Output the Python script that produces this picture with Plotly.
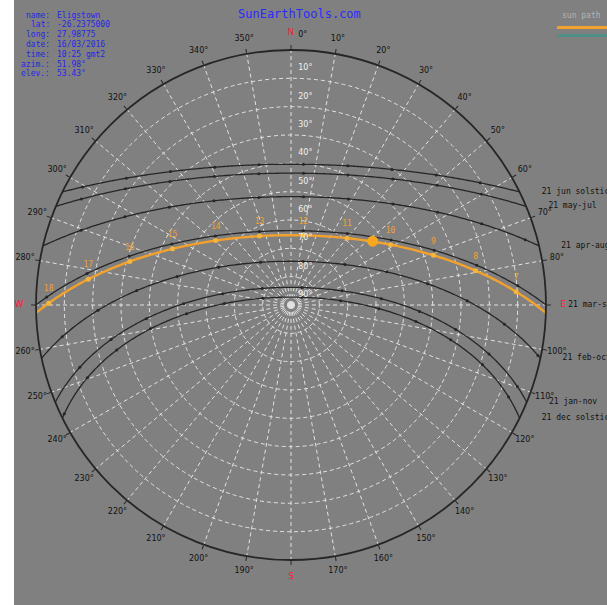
import numpy as np
import plotly.graph_objects as go

# ---- site / date data ----
LATITUDE = -26.2375
SITE_INFO_KEYS = ["name:", "lat:", "long:", "date:", "time:", "azim.:", "elev.:"]
SITE_INFO_VALS = ["Eligstown", "-26.2375000", "27.98775", "16/03/2016",
                  "10:25 gmt2", "51.98°", "53.43°"]

# reference sun paths (label, solar declination in degrees)
PATH_NAMES = ["21 jun solstice", "21 may-jul", "21 apr-aug", "21 mar-sep",
              "21 feb-oct", "21 jan-nov", "21 dec solstice"]
PATH_DECL = [23.44, 20.3, 12.0, 0.0, -10.8, -20.0, -23.44]

# today's path
TODAY_NAME = "16/03/2016"
TODAY_DECL = -1.6
CLOCK_HOURS = list(range(5, 20))
SOLAR_NOON_CLOCK = 12.28          # local clock time of solar noon (gmt+2)

# current sun position
SUN_AZIM = 51.98
SUN_ELEV = 53.43

# axes
AZ_TICKS = list(range(0, 360, 10))
AZ_LABEL_VALUES = [a for a in AZ_TICKS if a not in (90, 180, 270)]
ALT_RINGS = [10, 20, 30, 40, 50, 60, 70, 80]
ALT_LABELS = [10, 20, 30, 40, 50, 60, 70, 80, 90]
CARDINALS = ["N", "E", "S", "W"]
CARDINAL_AZ = [0, 90, 180, 270]

BG = "#808080"
INK = "#262626"
ORANGE = "#f2a22c"
GRID = "#e2e2e2"
MONO = "DejaVu Sans Mono"


def sun_position(decl, hour_angle):
    """Azimuth (from north, clockwise) and elevation for a declination / hour angle."""
    phi = np.radians(LATITUDE)
    d = np.radians(decl)
    h = np.radians(hour_angle)
    sin_alt = np.sin(phi) * np.sin(d) + np.cos(phi) * np.cos(d) * np.cos(h)
    alt = np.degrees(np.arcsin(np.clip(sin_alt, -1, 1)))
    az = np.degrees(np.arctan2(np.sin(h), np.cos(h) * np.sin(phi) - np.tan(d) * np.cos(phi))) + 180
    return np.mod(az, 360), alt


def day_arc(decl, n=241):
    h0 = np.degrees(np.arccos(np.clip(-np.tan(np.radians(LATITUDE)) * np.tan(np.radians(decl)), -1, 1)))
    ha = np.linspace(-h0, h0, n)
    return sun_position(decl, ha)


def hourly(decl):
    ha = (np.array(CLOCK_HOURS, dtype=float) - SOLAR_NOON_CLOCK) * 15.0
    az, alt = sun_position(decl, ha)
    keep = alt > 0.5
    return az[keep], alt[keep], np.array(CLOCK_HOURS)[keep]


fig = go.Figure()

# reference day paths
for name, decl in zip(PATH_NAMES, PATH_DECL):
    az, alt = day_arc(decl)
    fig.add_trace(go.Scatterpolar(r=90 - alt, theta=az, mode="lines",
                                  line=dict(color=INK, width=1.3),
                                  showlegend=False, hoverinfo="skip"))
    haz, halt, _ = hourly(decl)
    fig.add_trace(go.Scatterpolar(r=90 - halt, theta=haz, mode="markers",
                                  marker=dict(color=INK, size=3),
                                  showlegend=False, hoverinfo="skip"))
    # label beside the sunrise point
    fig.add_trace(go.Scatterpolar(r=[90 - alt[0]], theta=[az[0]], mode="markers+text",
                                  text=[name], textposition="middle right",
                                  textfont=dict(family=MONO, size=8, color="#111111"),
                                  marker=dict(size=34, color="rgba(0,0,0,0)"),
                                  cliponaxis=False, showlegend=False, hoverinfo="skip"))

# today's path
az, alt = day_arc(TODAY_DECL)
fig.add_trace(go.Scatterpolar(r=90 - alt, theta=az, mode="lines",
                              line=dict(color=ORANGE, width=2.4),
                              showlegend=False, hoverinfo="skip"))
haz, halt, hrs = hourly(TODAY_DECL)
fig.add_trace(go.Scatterpolar(r=90 - halt, theta=haz, mode="markers",
                              marker=dict(color="#f7b43a", size=5),
                              showlegend=False, hoverinfo="skip"))
fig.add_trace(go.Scatterpolar(r=90 - halt, theta=haz, mode="markers+text",
                              text=[str(h) for h in hrs], textposition="top center",
                              textfont=dict(family=MONO, size=8, color="#f0a030"),
                              marker=dict(size=14, color="rgba(0,0,0,0)"),
                              cliponaxis=False, showlegend=False, hoverinfo="skip"))

# current sun position
fig.add_trace(go.Scatterpolar(r=[90 - SUN_ELEV], theta=[SUN_AZIM], mode="markers",
                              marker=dict(color="#f7a81e", size=11),
                              showlegend=False, hoverinfo="skip"))

# elevation labels along the north line
fig.add_trace(go.Scatterpolar(r=[90 - a + 3.5 for a in ALT_LABELS], theta=[0] * len(ALT_LABELS),
                              mode="markers+text", text=[f"{a}°" for a in ALT_LABELS],
                              textposition="middle right",
                              textfont=dict(family="DejaVu Sans", size=8, color="#f2f2f2"),
                              marker=dict(size=10, color="rgba(0,0,0,0)"),
                              cliponaxis=False, showlegend=False, hoverinfo="skip"))

# outer ring of labels lives on a second, wider polar frame sharing the same centre
lab_theta = [a + 2.5 if a == 0 else a for a in AZ_LABEL_VALUES]
fig.add_trace(go.Scatterpolar(r=[95.3] * len(AZ_LABEL_VALUES), theta=lab_theta, mode="text",
                              text=[f"{a}°" for a in AZ_LABEL_VALUES],
                              textfont=dict(family="DejaVu Sans", size=8, color="#111111"),
                              subplot="polar2", showlegend=False, hoverinfo="skip"))
fig.add_trace(go.Scatterpolar(r=[96] * 4, theta=CARDINAL_AZ, mode="text", text=CARDINALS,
                              textfont=dict(family="DejaVu Sans", size=9, color="#ff1a3c"),
                              subplot="polar2", showlegend=False, hoverinfo="skip"))

W, H = 607, 605
cx, cy, R = 291, 305, 255
R2 = R * 100 / 90
fig.update_layout(
    width=W, height=H,
    margin=dict(l=0, r=0, t=0, b=0),
    paper_bgcolor="white",
    showlegend=False,
    polar=dict(
        domain=dict(x=[(cx - R) / W, (cx + R) / W], y=[(H - cy - R) / H, (H - cy + R) / H]),
        bgcolor=BG,
        angularaxis=dict(rotation=90, direction="clockwise", tickmode="array",
                         tickvals=AZ_TICKS, showticklabels=False, ticks="outside",
                         ticklen=4, tickcolor=INK, linecolor=INK, linewidth=1.8,
                         showgrid=True, gridcolor=GRID, griddash="4px,3px", gridwidth=1),
        radialaxis=dict(range=[0, 90], tickmode="array", tickvals=[90 - a for a in ALT_RINGS],
                        showticklabels=False, ticks="", showline=False,
                        showgrid=True, gridcolor=GRID, griddash="4px,3px", gridwidth=1),
    ),
    polar2=dict(
        domain=dict(x=[(cx - R2) / W, (cx + R2) / W], y=[(H - cy - R2) / H, (H - cy + R2) / H]),
        bgcolor="rgba(0,0,0,0)",
        angularaxis=dict(rotation=90, direction="clockwise", showticklabels=False, ticks="",
                         showline=False, showgrid=False),
        radialaxis=dict(range=[0, 100], showticklabels=False, ticks="", showline=False,
                        showgrid=False),
    ),
    shapes=[
        dict(type="rect", xref="paper", yref="paper", x0=14 / W, x1=1, y0=0, y1=1,
             fillcolor=BG, line=dict(width=0), layer="below"),
        # key swatches, top right
        dict(type="line", xref="paper", yref="paper", x0=557 / W, x1=1, y0=1 - 27.5 / H,
             y1=1 - 27.5 / H, line=dict(color=ORANGE, width=3)),
        dict(type="line", xref="paper", yref="paper", x0=557 / W, x1=1, y0=1 - 35.5 / H,
             y1=1 - 35.5 / H, line=dict(color="#4f8f86", width=3)),
    ],
)

# site information block, site title and key caption
ann = [dict(text="SunEarthTools.com", x=299 / W, y=1 - 14 / H, xref="paper", yref="paper",
            showarrow=False, xanchor="center", yanchor="middle",
            font=dict(family=MONO, size=12, color="#2b2bff")),
       dict(text="sun path", x=560 / W, y=1 - 15 / H, xref="paper", yref="paper",
            showarrow=False, xanchor="left", yanchor="middle",
            font=dict(family=MONO, size=8, color="#b4b4b4"))]
for i, (k, v) in enumerate(zip(SITE_INFO_KEYS, SITE_INFO_VALS)):
    y = 1 - (15 + 9.8 * i) / H
    ann.append(dict(text=k, x=52 / W, y=y, xref="paper", yref="paper", showarrow=False,
                    xanchor="right", yanchor="middle",
                    font=dict(family=MONO, size=8, color="#2626e6")))
    ann.append(dict(text=v, x=55 / W, y=y, xref="paper", yref="paper", showarrow=False,
                    xanchor="left", yanchor="middle",
                    font=dict(family=MONO, size=8, color="#2626e6")))
fig.update_layout(annotations=ann)

fig.write_html("out.html")
